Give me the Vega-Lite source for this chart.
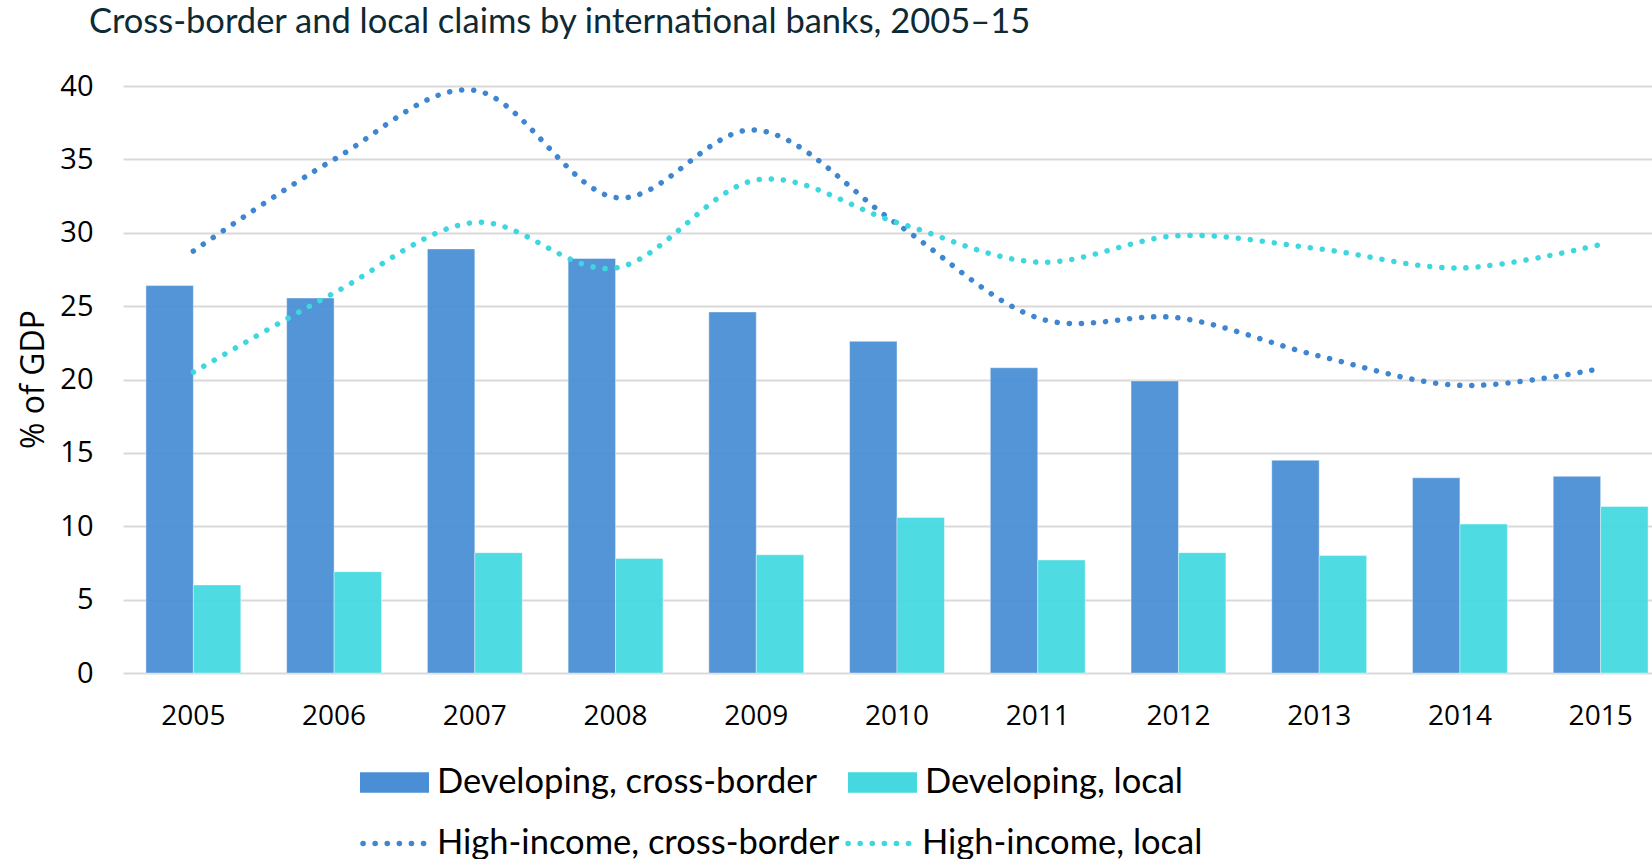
{
  "$schema": "https://vega.github.io/schema/vega-lite/v6.json",
  "width": 1529,
  "height": 587,
  "autosize": {"type": "none"},
  "padding": {"left": 123, "top": 86, "right": 0, "bottom": 186},
  "background": "white",
  "title": {
    "text": "Cross-border and local claims by international banks, 2005–15",
    "anchor": "start",
    "frame": "group",
    "font": "Lato",
    "fontSize": 34.5,
    "fontWeight": "normal",
    "color": "#0E2A35",
    "dx": -34,
    "offset": 32
  },
  "config": {"view": {"stroke": null}},
  "layer": [
    {
      "data": {
        "values": [
          {"year": "2005", "series": "Developing, cross-border", "value": 26.4},
          {"year": "2005", "series": "Developing, local", "value": 6.0},
          {"year": "2006", "series": "Developing, cross-border", "value": 25.55},
          {"year": "2006", "series": "Developing, local", "value": 6.9},
          {"year": "2007", "series": "Developing, cross-border", "value": 28.9},
          {"year": "2007", "series": "Developing, local", "value": 8.2},
          {"year": "2008", "series": "Developing, cross-border", "value": 28.25},
          {"year": "2008", "series": "Developing, local", "value": 7.8},
          {"year": "2009", "series": "Developing, cross-border", "value": 24.6},
          {"year": "2009", "series": "Developing, local", "value": 8.05},
          {"year": "2010", "series": "Developing, cross-border", "value": 22.6},
          {"year": "2010", "series": "Developing, local", "value": 10.6},
          {"year": "2011", "series": "Developing, cross-border", "value": 20.8},
          {"year": "2011", "series": "Developing, local", "value": 7.7},
          {"year": "2012", "series": "Developing, cross-border", "value": 19.9},
          {"year": "2012", "series": "Developing, local", "value": 8.2},
          {"year": "2013", "series": "Developing, cross-border", "value": 14.5},
          {"year": "2013", "series": "Developing, local", "value": 8.0},
          {"year": "2014", "series": "Developing, cross-border", "value": 13.3},
          {"year": "2014", "series": "Developing, local", "value": 10.15},
          {"year": "2015", "series": "Developing, cross-border", "value": 13.4},
          {"year": "2015", "series": "Developing, local", "value": 11.35}
        ]
      },
      "mark": {"type": "bar", "fillOpacity": 0.95, "stroke": "white", "strokeOpacity": 0.4, "strokeWidth": 1},
      "encoding": {
        "x": {
          "field": "year",
          "type": "nominal",
          "scale": {"range": [0, 1548], "paddingInner": 0.326, "paddingOuter": 0.163},
          "axis": {
            "title": null,
            "labelAngle": 0,
            "ticks": false,
            "domain": false,
            "labelFont": "Open Sans",
            "labelFontSize": 28,
            "labelColor": "#000000",
            "labelPadding": 29
          }
        },
        "xOffset": {
          "field": "series",
          "scale": {"domain": ["Developing, cross-border", "Developing, local"], "paddingInner": 0, "paddingOuter": 0}
        },
        "y": {
          "field": "value",
          "type": "quantitative",
          "scale": {"domain": [0, 40], "nice": false},
          "axis": {
            "values": [0, 5, 10, 15, 20, 25, 30, 35, 40],
            "title": "% of GDP",
            "titleFont": "Open Sans",
            "titleFontSize": 32,
            "titleFontWeight": "normal",
            "titleColor": "#000000",
            "titleAngle": -90,
            "titleX": -90,
            "titleY": 293,
            "titleAlign": "center",
            "titleBaseline": "middle",
            "domain": false,
            "ticks": false,
            "grid": true,
            "gridColor": "#D9D9D9",
            "gridWidth": 2,
            "labelFont": "Open Sans",
            "labelFontSize": 29,
            "labelColor": "#000000",
            "labelPadding": 30
          }
        },
        "fill": {
          "field": "series",
          "type": "nominal",
          "scale": {"domain": ["Developing, cross-border", "Developing, local"], "range": ["#4A8FD5", "#45D9DF"]},
          "legend": {
            "orient": "none",
            "legendX": 237,
            "legendY": 662,
            "direction": "horizontal",
            "columns": 2,
            "title": null,
            "padding": 0,
            "symbolType": "M-1,-0.3H1V0.3H-1Z",
            "symbolSize": 4761,
            "symbolStrokeWidth": 0,
            "symbolOpacity": 1,
            "labelFont": "Lato",
            "labelFontSize": 34.5,
            "labelColor": "#000000",
            "labelOffset": 8,
            "labelLimit": 600,
            "columnPadding": 31
          }
        }
      }
    },
    {
      "data": {
        "values": [
          {"year": "2005", "series": "High-income, cross-border", "value": 28.75},
          {"year": "2006", "series": "High-income, cross-border", "value": 35.0},
          {"year": "2007", "series": "High-income, cross-border", "value": 39.7},
          {"year": "2008", "series": "High-income, cross-border", "value": 32.4},
          {"year": "2009", "series": "High-income, cross-border", "value": 37.0},
          {"year": "2010", "series": "High-income, cross-border", "value": 30.6},
          {"year": "2011", "series": "High-income, cross-border", "value": 24.2},
          {"year": "2012", "series": "High-income, cross-border", "value": 24.2},
          {"year": "2013", "series": "High-income, cross-border", "value": 21.6},
          {"year": "2014", "series": "High-income, cross-border", "value": 19.6},
          {"year": "2015", "series": "High-income, cross-border", "value": 20.75},
          {"year": "2005", "series": "High-income, local", "value": 20.5},
          {"year": "2006", "series": "High-income, local", "value": 25.9},
          {"year": "2007", "series": "High-income, local", "value": 30.7},
          {"year": "2008", "series": "High-income, local", "value": 27.6},
          {"year": "2009", "series": "High-income, local", "value": 33.6},
          {"year": "2010", "series": "High-income, local", "value": 30.7},
          {"year": "2011", "series": "High-income, local", "value": 28.0},
          {"year": "2012", "series": "High-income, local", "value": 29.8},
          {"year": "2013", "series": "High-income, local", "value": 28.9},
          {"year": "2014", "series": "High-income, local", "value": 27.6},
          {"year": "2015", "series": "High-income, local", "value": 29.2}
        ]
      },
      "mark": {"type": "line", "interpolate": "cardinal", "strokeDash": [0.1, 12], "strokeCap": "round", "strokeWidth": 5.5},
      "encoding": {
        "x": {"field": "year", "type": "nominal"},
        "y": {"field": "value", "type": "quantitative"},
        "stroke": {
          "field": "series",
          "type": "nominal",
          "scale": {"domain": ["High-income, cross-border", "High-income, local"], "range": ["#3E86D1", "#3FD7DF"]},
          "legend": {
            "orient": "none",
            "legendX": 237,
            "legendY": 720,
            "direction": "horizontal",
            "columns": 2,
            "title": null,
            "padding": 0,
            "symbolType": "stroke",
            "symbolSize": 4761,
            "symbolDash": [0.1, 12],
            "symbolStrokeWidth": 5.5,
            "labelFont": "Lato",
            "labelFontSize": 34.5,
            "labelColor": "#000000",
            "labelOffset": 2,
            "labelLimit": 600,
            "columnPadding": -3,
            "encode": {"symbols": {"update": {"strokeCap": {"value": "round"}}}}
          }
        }
      }
    }
  ]
}
